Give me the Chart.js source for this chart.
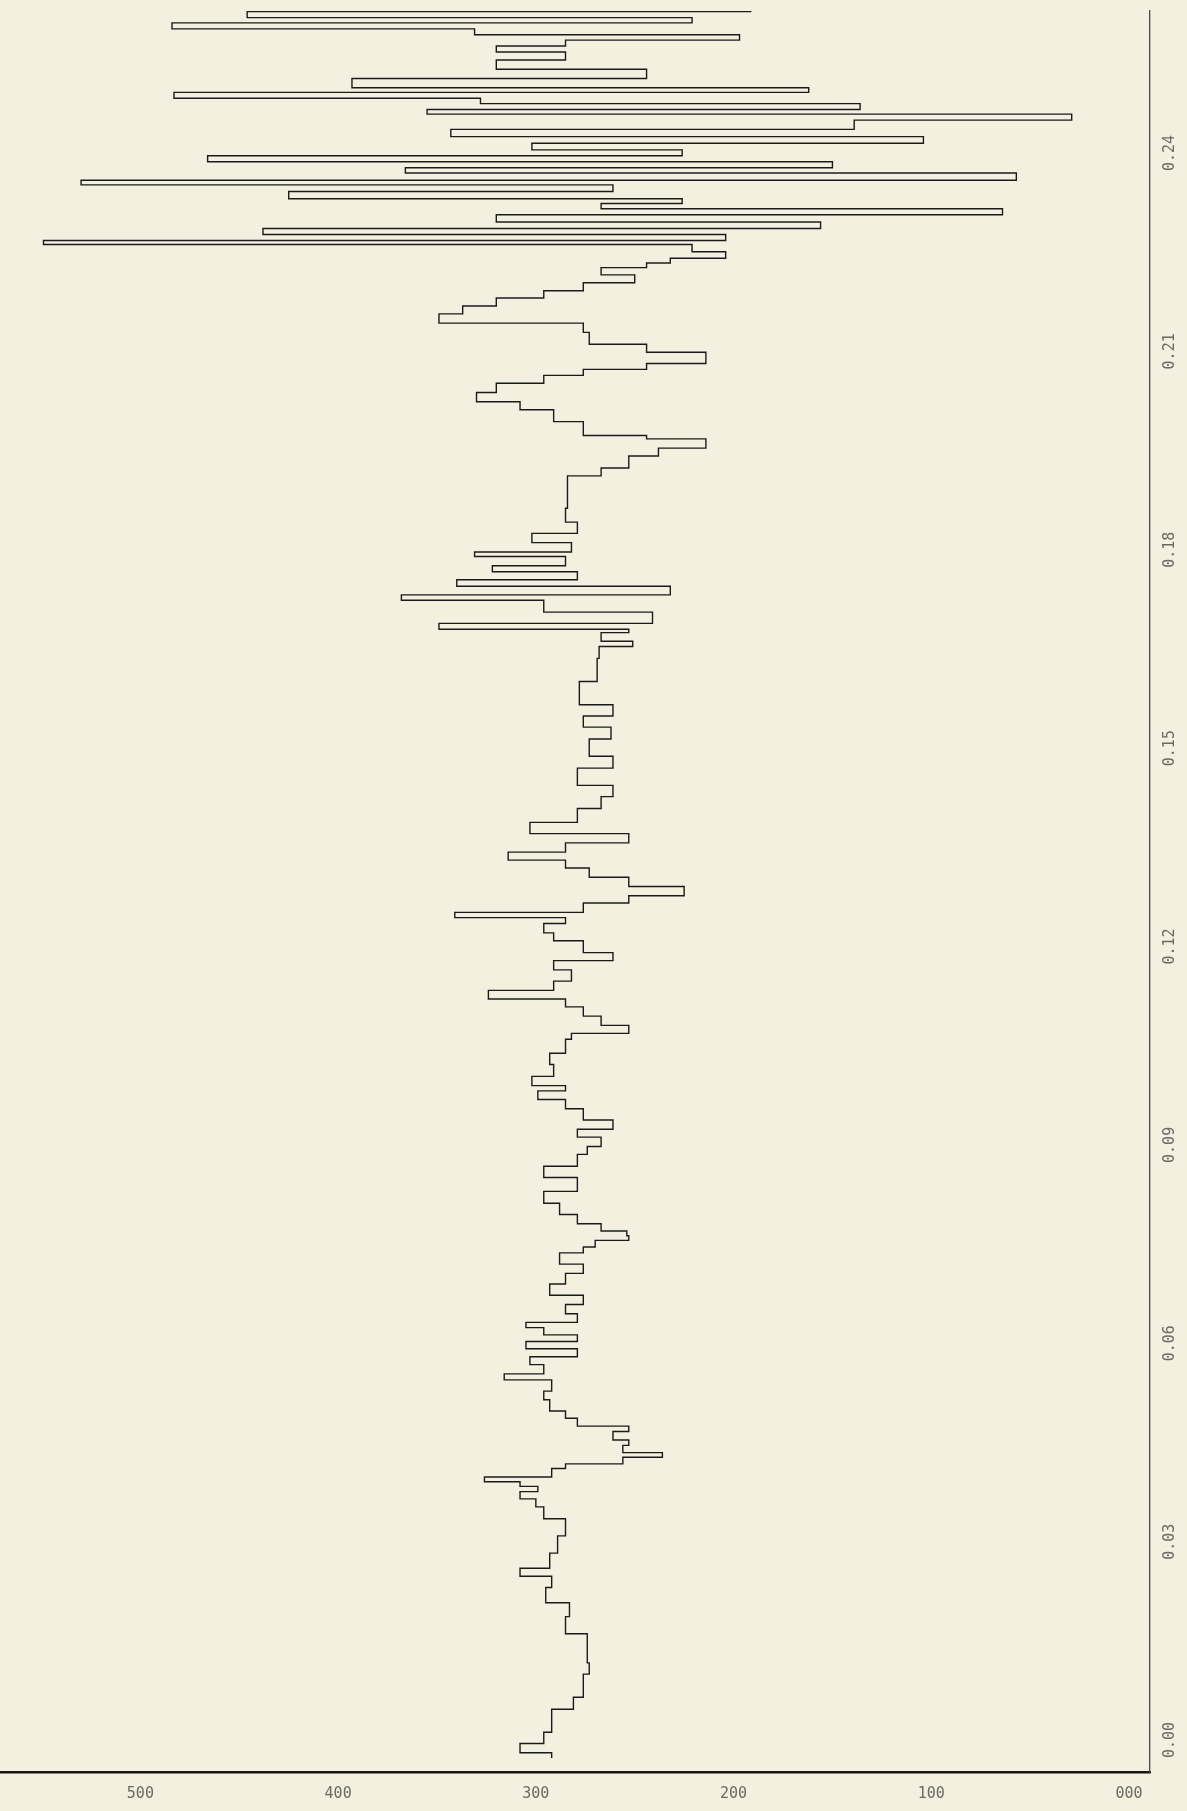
<!DOCTYPE html>
<html>
<head>
<meta charset="utf-8">
<script src="https://cdn.jsdelivr.net/npm/chart.js@4/dist/chart.umd.min.js"></script>
<style>
  html, body { margin: 0; padding: 0; background: #f3f0e0; }
  #wrap { width: 1187px; height: 1811px; }
</style>
</head>
<body>
<div id="wrap"><canvas id="trace" width="1187" height="1811"></canvas></div>
<script>
// Sample times (seconds) at which the recorded level changes
const times = [
  0.0000, 0.0008, 0.0022, 0.0039, 0.0074, 0.0092, 0.0127, 0.0144, 0.0188, 0.0214,
  0.0235, 0.0258, 0.0275, 0.0287, 0.0310, 0.0336, 0.0362, 0.0380, 0.0392, 0.0403,
  0.0411, 0.0418, 0.0425, 0.0438, 0.0445, 0.0455, 0.0462, 0.0473, 0.0481, 0.0494,
  0.0502, 0.0514, 0.0525, 0.0542, 0.0555, 0.0572, 0.0581, 0.0595, 0.0607, 0.0619,
  0.0630, 0.0640, 0.0651, 0.0659, 0.0672, 0.0686, 0.0700, 0.0717, 0.0733, 0.0747,
  0.0764, 0.0773, 0.0783, 0.0790, 0.0797, 0.0808, 0.0822, 0.0839, 0.0857, 0.0878,
  0.0895, 0.0913, 0.0925, 0.0939, 0.0951, 0.0965, 0.0982, 0.0996, 0.1009, 0.1017,
  0.1031, 0.1049, 0.1066, 0.1087, 0.1096, 0.1108, 0.1122, 0.1136, 0.1148, 0.1161,
  0.1175, 0.1192, 0.1206, 0.1218, 0.1236, 0.1248, 0.1262, 0.1271, 0.1279, 0.1293,
  0.1304, 0.1318, 0.1332, 0.1346, 0.1358, 0.1370, 0.1384, 0.1398, 0.1415, 0.1436,
  0.1454, 0.1471, 0.1497, 0.1515, 0.1541, 0.1559, 0.1576, 0.1593, 0.1628, 0.1663,
  0.1681, 0.1689, 0.1702, 0.1707, 0.1716, 0.1733, 0.1751, 0.1759, 0.1772, 0.1782,
  0.1794, 0.1803, 0.1817, 0.1824, 0.1838, 0.1852, 0.1869, 0.1890, 0.1916, 0.1939,
  0.1951, 0.1969, 0.1981, 0.1995, 0.2000, 0.2021, 0.2039, 0.2051, 0.2065, 0.2079,
  0.2091, 0.2100, 0.2109, 0.2126, 0.2138, 0.2156, 0.2170, 0.2184, 0.2196, 0.2208,
  0.2219, 0.2231, 0.2243, 0.2254, 0.2261, 0.2268, 0.2278, 0.2289, 0.2295, 0.2304,
  0.2313, 0.2323, 0.2334, 0.2343, 0.2351, 0.2358, 0.2369, 0.2379, 0.2386, 0.2397,
  0.2405, 0.2414, 0.2423, 0.2432, 0.2442, 0.2452, 0.2463, 0.2477, 0.2486, 0.2493,
  0.2502, 0.2510, 0.2519, 0.2526, 0.2540, 0.2554, 0.2568, 0.2580, 0.2589, 0.2598,
  0.2606, 0.2615, 0.2624, 0.2632, 0.2641
];

// Recorded level after each change
const levels = [
  292, 308, 296, 292, 281, 276, 273, 274, 285, 283,
  295, 292, 308, 293, 289, 285, 296, 300, 308, 299,
  308, 326, 292, 285, 256, 236, 256, 253, 261, 253,
  279, 285, 293, 296, 292, 316, 296, 303, 279, 305,
  279, 296, 305, 279, 285, 276, 293, 285, 276, 288,
  276, 270, 253, 254, 267, 279, 288, 296, 279, 296,
  279, 274, 267, 279, 261, 276, 285, 299, 285, 302,
  291, 293, 285, 282, 253, 267, 276, 285, 324, 291,
  282, 291, 261, 276, 291, 296, 285, 341, 276, 253,
  225, 253, 273, 285, 314, 285, 253, 303, 279, 267,
  261, 279, 261, 273, 262, 276, 261, 278, 269, 268,
  251, 267, 253, 349, 241, 296, 368, 232, 340, 279,
  322, 285, 331, 282, 302, 279, 285, 284, 284, 267,
  253, 238, 214, 244, 276, 291, 308, 330, 320, 296,
  276, 244, 214, 244, 273, 276, 349, 337, 320, 296,
  276, 250, 267, 244, 232, 204, 221, 549, 204, 438,
  156, 320, 64, 267, 226, 425, 261, 530, 57, 366,
  150, 466, 226, 302, 104, 343, 139, 29, 355, 136,
  328, 483, 162, 393, 244, 320, 285, 320, 285, 197,
  331, 484, 221, 446, 191
];

// Axis tick positions
const levelTicks = [0, 100, 200, 300, 400, 500];
const timeTicks = [0.00, 0.03, 0.06, 0.09, 0.12, 0.15, 0.18, 0.21, 0.24];

const points = times.map((t, i) => ({ x: levels[i], y: t }));

const labelFont = { family: 'DejaVu Sans Mono', size: 15 };

new Chart(document.getElementById('trace'), {
  type: 'scatter',
  data: {
    datasets: [{
      data: points,
      showLine: true,
      stepped: 'after',
      borderColor: '#1b1b1b',
      borderWidth: 1.4,
      pointRadius: 0,
      pointHoverRadius: 0,
      fill: false
    }]
  },
  options: {
    responsive: false,
    animation: false,
    devicePixelRatio: 1,
    layout: { padding: { left: 0, top: 11, right: 0, bottom: 0 } },
    plugins: { legend: { display: false }, tooltip: { enabled: false } },
    scales: {
      x: {
        type: 'linear',
        reverse: true,
        min: -10.6,
        max: 571,
        grid: { display: false, drawTicks: false },
        border: { display: true, color: '#161616', width: 2.5 },
        afterBuildTicks: s => { s.ticks = levelTicks.map(v => ({ value: v })); },
        afterFit: s => { s.height = 39; s.paddingLeft = 0; s.paddingRight = 0; },
        ticks: {
          autoSkip: false,
          maxRotation: 0,
          minRotation: 0,
          padding: 13,
          color: '#6a6a62',
          font: labelFont,
          callback: v => String(Math.round(v)).padStart(3, '0')
        }
      },
      y: {
        type: 'linear',
        position: 'right',
        min: -0.0021,
        max: 0.2642,
        grid: { display: false, drawTicks: false },
        border: { display: true, color: '#4a4a4a', width: 1.3 },
        afterBuildTicks: s => { s.ticks = timeTicks.map(v => ({ value: v })); },
        afterFit: s => { s.width = 37; s.paddingTop = 0; s.paddingBottom = 0; },
        ticks: {
          autoSkip: false,
          minRotation: 90,
          maxRotation: 90,
          padding: 20,
          color: '#6a6a62',
          font: labelFont,
          callback: v => v.toFixed(2)
        }
      }
    }
  }
});
</script>
</body>
</html>
